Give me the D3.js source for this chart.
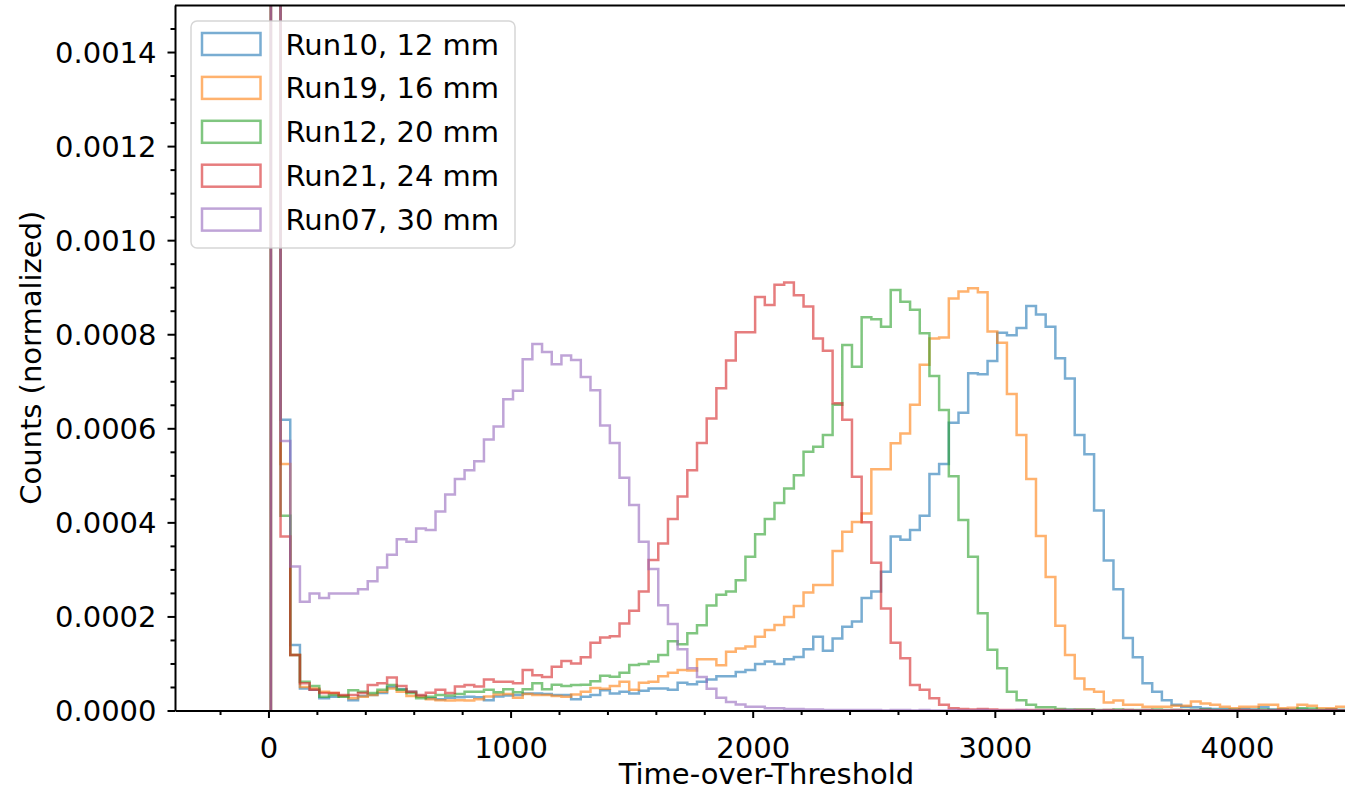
<!DOCTYPE html>
<html>
<head>
<meta charset="utf-8">
<script src="https://cdnjs.cloudflare.com/ajax/libs/d3/7.8.5/d3.min.js"></script>
<style>
 body { margin: 0; background: #fff; }
 svg text { font-family: "DejaVu Sans", sans-serif; fill: #000; }
</style>
</head>
<body>
<script>
 //Histogram binning of Time-over-Threshold
 var binStart = 10,
     binWidth = 40;

 //Normalized counts per bin in units of 1e-4
 //(first bin is the spike that runs off the top of the axes)
 var run10 = [40, 6.18, 1.39, 0.47, 0.44, 0.26, 0.29, 0.31, 0.22, 0.31,
     0.33, 0.37, 0.50, 0.45, 0.40, 0.31, 0.26, 0.24, 0.27, 0.28,
     0.29, 0.28, 0.22, 0.30, 0.32, 0.33, 0.36, 0.36, 0.35, 0.33,
     0.33, 0.24, 0.29, 0.33, 0.43, 0.36, 0.40, 0.36, 0.42, 0.47,
     0.47, 0.44, 0.59, 0.56, 0.61, 0.66, 0.73, 0.73, 0.82, 0.86,
     0.99, 1.04, 0.99, 1.09, 1.14, 1.30, 1.57, 1.27, 1.53, 1.78,
     1.89, 2.39, 2.53, 2.95, 3.70, 3.63, 3.84, 4.14, 5.03, 5.24,
     6.12, 6.33, 7.17, 7.15, 7.43, 8.03, 7.98, 8.13, 8.60, 8.42,
     8.16, 7.49, 7.06, 5.86, 5.45, 4.25, 3.19, 2.58, 1.54, 1.13,
     0.58, 0.40, 0.22, 0.12, 0.08, 0.07, 0.04, 0.03, 0.03, 0.02,
     0.03, 0.02, 0.07, 0.02, 0.02, 0.01, 0.02, 0.01, 0.01, 0.02,
     0.01, 0.01].map(function(v) { return v * 1e-4; });

 var run19 = [40, 5.24, 1.18, 0.50, 0.47, 0.40, 0.37, 0.31, 0.26, 0.29,
     0.33, 0.40, 0.47, 0.40, 0.31, 0.29, 0.24, 0.22, 0.21, 0.22,
     0.21, 0.24, 0.30, 0.34, 0.35, 0.27, 0.35, 0.33, 0.33, 0.31,
     0.29, 0.34, 0.40, 0.48, 0.46, 0.52, 0.61, 0.44, 0.59, 0.61,
     0.73, 0.80, 0.86, 0.85, 1.09, 1.09, 0.96, 1.25, 1.32, 1.36,
     1.57, 1.71, 1.82, 1.99, 2.22, 2.51, 2.67, 2.67, 3.39, 3.80,
     4.01, 4.19, 5.13, 5.13, 5.68, 5.89, 6.50, 7.35, 7.91, 7.93,
     8.76, 8.91, 8.98, 8.89, 8.06, 7.82, 6.73, 5.86, 4.92, 3.71,
     2.84, 1.80, 1.18, 0.68, 0.45, 0.40, 0.17, 0.21, 0.12, 0.12,
     0.08, 0.08, 0.08, 0.10, 0.10, 0.19, 0.15, 0.12, 0.08, 0.05,
     0.08, 0.08, 0.12, 0.12, 0.05, 0.06, 0.12, 0.10, 0.05, 0.05,
     0.08, 0.08].map(function(v) { return v * 1e-4; });

 var run12 = [40, 4.14, 1.18, 0.61, 0.52, 0.29, 0.33, 0.29, 0.43, 0.40,
     0.37, 0.44, 0.54, 0.44, 0.37, 0.26, 0.29, 0.33, 0.32, 0.35,
     0.40, 0.40, 0.44, 0.39, 0.45, 0.39, 0.45, 0.58, 0.45, 0.55,
     0.52, 0.54, 0.55, 0.62, 0.74, 0.72, 0.80, 0.97, 0.99, 1.04,
     1.18, 1.47, 1.41, 1.64, 1.81, 2.23, 2.46, 2.53, 2.77, 3.27,
     3.75, 4.07, 4.41, 4.72, 5.00, 5.50, 5.61, 5.86, 6.50, 7.77,
     7.31, 8.36, 8.32, 8.16, 8.94, 8.69, 8.52, 8.02, 7.11, 6.39,
     4.98, 4.05, 3.27, 2.07, 1.29, 0.90, 0.40, 0.22, 0.12, 0.07,
     0.07, 0.03, 0.02, 0.02, 0.02, 0.01, 0.01, 0.02, 0.01, 0.01,
     0.01, 0.02, 0.01, 0.01, 0.01, 0.01, 0.02, 0.01, 0.01, 0.01,
     0.01, 0.01, 0.02, 0.01, 0.01, 0.01, 0.05, 0.04, 0.01, 0.01,
     0.01, 0.01].map(function(v) { return v * 1e-4; });

 var run21 = [40, 3.70, 1.18, 0.58, 0.44, 0.37, 0.37, 0.33, 0.33, 0.37,
     0.54, 0.58, 0.70, 0.52, 0.40, 0.33, 0.38, 0.44, 0.37, 0.51,
     0.54, 0.51, 0.66, 0.61, 0.61, 0.58, 0.86, 0.75, 0.71, 0.93,
     1.05, 1.00, 1.13, 1.44, 1.55, 1.58, 1.85, 2.12, 2.53, 3.20,
     3.55, 4.07, 4.55, 5.11, 5.69, 6.21, 6.85, 7.44, 8.04, 8.04,
     8.79, 8.62, 9.05, 9.10, 8.83, 8.59, 7.91, 7.65, 6.53, 6.18,
     4.97, 4.00, 3.14, 2.17, 1.44, 1.11, 0.54, 0.44, 0.26, 0.12,
     0.05, 0.03, 0.02, 0.03, 0.02, 0.01, 0.01, 0.01, 0.01, 0.01,
     0.01, 0.01, 0.00, 0.01, 0.01, 0.00, 0.01, 0.00, 0.01, 0.00,
     0.01, 0.00, 0.00, 0.01, 0.00, 0.00, 0.01, 0.00, 0.00, 0.00,
     0.01, 0.00, 0.00, 0.00, 0.01, 0.00, 0.00, 0.00, 0.00, 0.01,
     0.00, 0.00].map(function(v) { return v * 1e-4; });

 var run07 = [40, 5.73, 3.06, 2.31, 2.49, 2.39, 2.49, 2.49, 2.49, 2.58,
     2.75, 3.04, 3.31, 3.64, 3.59, 3.87, 3.84, 4.23, 4.59, 4.92,
     5.11, 5.30, 5.76, 6.04, 6.62, 6.80, 7.47, 7.79, 7.62, 7.36,
     7.55, 7.45, 7.09, 6.81, 6.06, 5.69, 4.95, 4.37, 3.59, 3.01,
     2.24, 1.84, 1.30, 0.90, 0.71, 0.46, 0.27, 0.18, 0.13, 0.08,
     0.08, 0.05, 0.05, 0.03, 0.03, 0.02, 0.02, 0.01, 0.01, 0.01,
     0.01, 0.01, 0.01, 0.00, 0.01, 0.01, 0.00, 0.01, 0.00, 0.00,
     0.01, 0.00, 0.00, 0.01, 0.00, 0.00, 0.00, 0.01, 0.00, 0.00,
     0.00, 0.00, 0.01, 0.00, 0.00, 0.00, 0.00, 0.00, 0.00, 0.00,
     0.00, 0.00, 0.00, 0.00, 0.00, 0.00, 0.00, 0.00, 0.00, 0.00,
     0.00, 0.00, 0.00, 0.00, 0.00, 0.00, 0.00, 0.00, 0.00, 0.00,
     0.00, 0.00].map(function(v) { return v * 1e-4; });

 var runLabels = ["Run10, 12 mm", "Run19, 16 mm", "Run12, 20 mm", "Run21, 24 mm", "Run07, 30 mm"];
 var runValues = [run10, run19, run12, run21, run07];

 //Axis ticks
 var xTicks = [0, 1000, 2000, 3000, 4000],
     xTickLabels = ["0", "1000", "2000", "3000", "4000"];
 var yTicks = [0, 0.0002, 0.0004, 0.0006, 0.0008, 0.0010, 0.0012, 0.0014],
     yTickLabels = ["0.0000", "0.0002", "0.0004", "0.0006", "0.0008", "0.0010", "0.0012", "0.0014"];

 //Width and height
 var margin = {
         left: 175,
         top: 5
     },
     width = 1183,
     height = 705.5,
     fontSize = 29;

 var svg = d3.select("body")
     .append("svg")
     .attr("width", 1345)
     .attr("height", 791);

 var plot = svg.append("g")
     .attr("transform", "translate(" + margin.left + "," + margin.top + ")");

 //Scales
 var x = d3.scaleLinear()
     .domain([-386, 4500])
     .range([0, width]);

 var y = d3.scaleLinear()
     .domain([0, 0.0015])
     .range([height, 0]);

 var color = d3.scaleOrdinal()
     .domain(runLabels)
     .range(d3.schemeCategory10.slice(0, 5));

 //Clip the histograms to the axes box
 svg.append("defs")
     .append("clipPath")
     .attr("id", "clip")
     .append("rect")
     .attr("width", width)
     .attr("height", height);

 //Step outline of a histogram: baseline -> bars -> baseline
 var line = d3.line()
     .x(function(d) { return x(d[0]); })
     .y(function(d) { return y(d[1]); })
     .curve(d3.curveStepAfter);

 function stepPoints(values) {
     var pts = [[binStart, 0]];
     values.forEach(function(v, i) {
         pts.push([binStart + i * binWidth, v]);
     });
     pts.push([binStart + values.length * binWidth, 0]);
     return pts;
 }

 plot.append("g")
     .attr("clip-path", "url(#clip)")
     .selectAll("path")
     .data(runValues)
     .enter()
     .append("path")
     .attr("d", function(d) { return line(stepPoints(d)); })
     .attr("fill", "none")
     .attr("stroke", function(d, i) { return color(runLabels[i]); })
     .attr("stroke-opacity", 0.6)
     .attr("stroke-width", 2.5)
     .attr("stroke-linejoin", "miter");

 //Axes
 var xAxis = d3.axisBottom(x)
     .tickValues(xTicks)
     .tickFormat(function(d, i) { return xTickLabels[i]; })
     .tickSizeInner(7.5)
     .tickSizeOuter(0)
     .tickPadding(19);

 var yAxis = d3.axisLeft(y)
     .tickValues(yTicks)
     .tickFormat(function(d, i) { return yTickLabels[i]; })
     .tickSizeInner(7.5)
     .tickSizeOuter(0)
     .tickPadding(11);

 var xMinor = d3.range(-200, 4500, 200).filter(function(d) { return d % 1000 !== 0; });
 var yMinor = d3.range(0, 30).filter(function(i) { return i % 4 !== 0; })
     .map(function(i) { return i * 0.00005; });

 var gx = plot.append("g")
     .attr("transform", "translate(0," + height + ")")
     .call(xAxis);

 var gy = plot.append("g")
     .call(yAxis);

 gy.selectAll(".tick text").attr("dy", "0.36em");

 plot.append("g")
     .attr("transform", "translate(0," + height + ")")
     .call(d3.axisBottom(x).tickValues(xMinor).tickFormat("").tickSize(4.5))
     .call(function(g) { g.select(".domain").remove(); });

 plot.append("g")
     .call(d3.axisLeft(y).tickValues(yMinor).tickFormat("").tickSize(4.5))
     .call(function(g) { g.select(".domain").remove(); });

 plot.selectAll(".tick line, .domain")
     .attr("stroke", "#000")
     .attr("stroke-width", 2);

 plot.selectAll(".tick text")
     .attr("fill", "#000");

 [gx, gy].forEach(function(g) {
     g.attr("font-size", fontSize)
         .attr("font-family", "DejaVu Sans, sans-serif");
 });

 //Top spine
 plot.append("line")
     .attr("x1", 0)
     .attr("x2", width)
     .attr("y1", 0.5)
     .attr("y2", 0.5)
     .attr("stroke", "#000")
     .attr("stroke-width", 2);

 //Axis titles
 svg.append("text")
     .attr("x", margin.left + width / 2)
     .attr("y", 784)
     .attr("text-anchor", "middle")
     .attr("font-size", fontSize)
     .text("Time-over-Threshold");

 svg.append("text")
     .attr("transform", "translate(41," + (margin.top + height / 2) + ") rotate(-90)")
     .attr("text-anchor", "middle")
     .attr("font-size", fontSize)
     .text("Counts (normalized)");

 //Legend
 var legend = svg.append("g")
     .attr("class", "legend");

 legend.append("rect")
     .attr("x", 191)
     .attr("y", 21)
     .attr("width", 324)
     .attr("height", 227)
     .attr("rx", 6)
     .attr("fill", "#fff")
     .attr("fill-opacity", 0.8)
     .attr("stroke", "#cccccc")
     .attr("stroke-opacity", 0.8)
     .attr("stroke-width", 1.5);

 var rows = legend.selectAll("g.row")
     .data(runLabels)
     .enter()
     .append("g")
     .attr("class", "row")
     .attr("transform", function(d, i) { return "translate(0," + (44 + i * 43.9) + ")"; });

 rows.append("rect")
     .attr("x", 202)
     .attr("y", -11)
     .attr("width", 58.5)
     .attr("height", 22)
     .attr("fill", "none")
     .attr("stroke", function(d) { return color(d); })
     .attr("stroke-opacity", 0.6)
     .attr("stroke-width", 2.5);

 rows.append("text")
     .attr("x", 285.5)
     .attr("y", 10.5)
     .attr("font-size", fontSize)
     .text(function(d) { return d; });
</script>
</body>
</html>
